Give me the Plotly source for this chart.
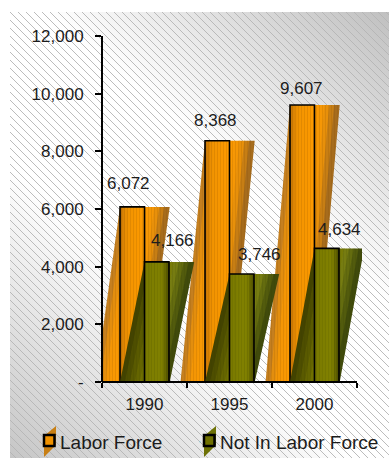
import base64
import plotly.graph_objects as go

categories = ["1990", "1995", "2000"]
labor_force = [6072, 8368, 9607]
not_in_labor_force = [4166, 3746, 4634]
y_ticks = [0, 2000, 4000, 6000, 8000, 10000, 12000]
y_tick_text = ["-", "2,000", "4,000", "6,000", "8,000", "10,000", "12,000"]

W, H = 389, 458
L, R, T, B = 102, 362, 36, 382   # plot box; the bars' sheared tops reach a little past the last category
UNIT = 85                        # pixels per category
BW = 0.288                       # one bar width, in category units
FONT = "Liberation Sans, Arial, sans-serif"
INK = "#1c1c1c"
STRIPS = 10
LF_LABEL_SHIFT = [(-4, 23), (-2, 20), (-1, 17)]
NI_LABEL_SHIFT = [(16, 21), (18, 19), (13, 19)]


def lerp(stops, t):
    for (a, ca), (b, cb) in zip(stops, stops[1:]):
        if t <= b:
            f = (t - a) / (b - a)
            return "rgb(%d,%d,%d)" % tuple(ca[i] + (cb[i] - ca[i]) * f for i in range(3))
    return "rgb(%d,%d,%d)" % stops[-1][1]


ORANGE_SIDE = [(0, (182, 120, 40)), (.2, (242, 150, 6)), (.5, (255, 155, 0)), (.72, (242, 150, 8)), (1, (150, 100, 34))]
ORANGE_FRONT = [(0, (196, 116, 6)), (.3, (242, 148, 2)), (1, (255, 155, 0))]
OLIVE_SIDE = [(0, (62, 62, 0)), (.5, (118, 118, 0)), (.62, (124, 130, 18)), (1, (56, 66, 10))]
OLIVE_FRONT = [(0, (122, 122, 0)), (.7, (130, 130, 0)), (1, (78, 78, 0))]

svg = f'''<svg xmlns="http://www.w3.org/2000/svg" width="{W-10}" height="{H-12}">
<defs><linearGradient id="g" gradientUnits="userSpaceOnUse" x1="0" y1="{H-12}" x2="{W-10}" y2="0">
<stop offset="0" stop-color="#c6c6c6"/><stop offset=".38" stop-color="#ffffff"/><stop offset=".62" stop-color="#ffffff"/><stop offset="1" stop-color="#c0c0c0"/></linearGradient>
<pattern id="p" width="8" height="8" patternUnits="userSpaceOnUse">
<path d="M-2,-2 L10,10 M-2,6 L2,10 M6,-2 L10,2" stroke="#b4b4b4" stroke-width="0.9" fill="none"/></pattern></defs>
<rect width="100%" height="100%" fill="url(#g)"/><rect width="100%" height="100%" fill="url(#p)"/></svg>'''
bg = "data:image/svg+xml;base64," + base64.b64encode(svg.encode()).decode()

fig = go.Figure()


def strips(values, centers, shift, span, stops, z):
    for k in range(STRIPS):
        xs, ys = [], []
        a, b = k / STRIPS, (k + 1.15) / STRIPS
        for c, v in zip(centers, values):
            x0 = c - BW / 2
            xs += [x0 + a * span, x0 + b * span, x0 + b * span - shift, x0 + a * span - shift, x0 + a * span, None]
            ys += [v, v, 0, 0, v, None]
        fig.add_trace(go.Scatter(x=xs, y=ys, mode="lines", line_width=0, fill="toself",
                                 fillcolor=lerp(stops, (k + .5) / STRIPS),
                                 hoverinfo="skip", showlegend=False, zorder=z))


def texture(values, centers, color, z):
    xs, ys = [], []
    for c, v in zip(centers, values):
        x0 = c - BW / 2
        xs += [x0, x0 + 2 * BW, x0 + BW, x0 - BW, x0, None]
        ys += [v, v, 0, 0, v, None]
    fig.add_trace(go.Scatter(x=xs, y=ys, mode="lines", line_width=0, fill="toself",
                             fillcolor="rgba(0,0,0,0)",
                             fillpattern=dict(shape="|", size=3, solidity=.3, fgcolor=color, bgcolor="rgba(0,0,0,0)"),
                             hoverinfo="skip", showlegend=False, zorder=z))


def series(name, values, centers, side, front, tex, base):
    strips(values, centers, BW, 2 * BW, side, base)
    texture(values, centers, tex, base + 1)
    strips(values, centers, 0, BW, front, base + 2)
    fig.add_trace(go.Bar(x=centers, y=values, width=BW, name=name, showlegend=False,
                         marker=dict(color="rgba(0,0,0,0)", line=dict(color="black", width=1.6),
                                     pattern=dict(shape="|", size=3, solidity=.3, fgcolor=tex,
                                                  bgcolor="rgba(0,0,0,0)")),
                         zorder=base + 3))


pos = list(range(len(categories)))
lf_x = [p - BW / 2 for p in pos]
ni_x = [p + BW / 2 for p in pos]
series("Labor Force", labor_force, lf_x, ORANGE_SIDE, ORANGE_FRONT, "rgba(120,70,0,.34)", 1)
series("Not In Labor Force", not_in_labor_force, ni_x, OLIVE_SIDE, OLIVE_FRONT, "rgba(50,60,0,.26)", 5)

annotations = []
for xs, vals, shifts in [(lf_x, labor_force, LF_LABEL_SHIFT), (ni_x, not_in_labor_force, NI_LABEL_SHIFT)]:
    for x, v, (dx, dy) in zip(xs, vals, shifts):
        annotations.append(dict(x=x, y=v, xref="x", yref="y", text=f"{v:,}", showarrow=False, xanchor="center",
                                yanchor="middle", xshift=dx, yshift=dy, font=dict(family=FONT, size=17, color=INK)))

# legend entries
for nm, lg in [("Labor Force", "legend"), ("Not In Labor Force", "legend2")]:
    fig.add_trace(go.Scatter(x=[None], y=[None], mode="markers", name=nm, legend=lg, showlegend=True,
                             marker=dict(size=1, opacity=0)))


def px(x):
    return (x - L) / (R - L)


def py(y):
    return (B - y) / (B - T)


def poly(pts, **kw):
    d = "M" + " L".join(f"{px(a):.4f},{py(b):.4f}" for a, b in pts) + " Z"
    return dict(type="path", xref="paper", yref="paper", path=d, layer="above", **kw)


shapes = []
for dx, side, fill in [(0, "#c87f14", "#f09200"), (160, "#6e7206", "#6f7000")]:
    shapes.append(poly([(56 + dx, 426), (56 + dx, 445), (44 + dx, 457), (44 + dx, 436)], fillcolor=side, line_width=0))
    shapes.append(poly([(44 + dx, 435), (54.5 + dx, 435), (54.5 + dx, 446), (44 + dx, 446)], fillcolor=fill,
                       line=dict(color="black", width=2.5)))
# axis lines, kept above the bars
shapes.append(dict(type="line", xref="paper", yref="paper", x0=0, x1=0, y0=0, y1=1,
                   line=dict(color="black", width=2), layer="above"))
shapes.append(dict(type="line", xref="x", yref="paper", x0=-.5, x1=2.5, y0=0, y1=0,
                   line=dict(color="black", width=2), layer="above"))


def legend_at(x_px):
    return dict(xref="container", yref="container", x=x_px / W, xanchor="left",
                y=1 - 423 / H, yanchor="top", orientation="h", bgcolor="rgba(0,0,0,0)",
                font=dict(family=FONT, size=19, color=INK), itemclick=False, itemdoubleclick=False)


fig.update_layout(
    width=W, height=H, autosize=False,
    margin=dict(l=L, r=W - R, t=T, b=H - B, pad=0, autoexpand=False),
    paper_bgcolor="white", plot_bgcolor="rgba(0,0,0,0)",
    barmode="overlay", font=dict(family=FONT, size=17, color=INK),
    shapes=shapes, annotations=annotations,
    images=[dict(source=bg, xref="paper", yref="paper", x=px(10), y=py(12),
                 sizex=px(W) - px(10), sizey=py(12) - py(H), sizing="stretch",
                 xanchor="left", yanchor="top", layer="below")],
    legend=legend_at(20), legend2=legend_at(180),
    xaxis=dict(range=[-.5, -.5 + (R - L) / UNIT], tickvals=pos, ticktext=categories, ticks="", showgrid=False,
               zeroline=False, showline=False, ticklabelstandoff=10, automargin=False,
               minor=dict(tickvals=[-.5, .5, 1.5, 2.5], ticks="outside", ticklen=5, tickwidth=2, tickcolor="black",
                          showgrid=False),
               tickfont=dict(family=FONT, size=17, color=INK)),
    yaxis=dict(range=[0, 12000], tickvals=y_ticks, ticktext=y_tick_text, ticks="outside", ticklen=6, tickwidth=2,
               tickcolor="black", showgrid=False, zeroline=False, showline=False,
               ticklabelstandoff=8, automargin=False, tickfont=dict(family=FONT, size=17, color=INK)),
)

fig.write_html("out.html", config=dict(displayModeBar=False),
               post_script="document.body.style.margin='0';")
